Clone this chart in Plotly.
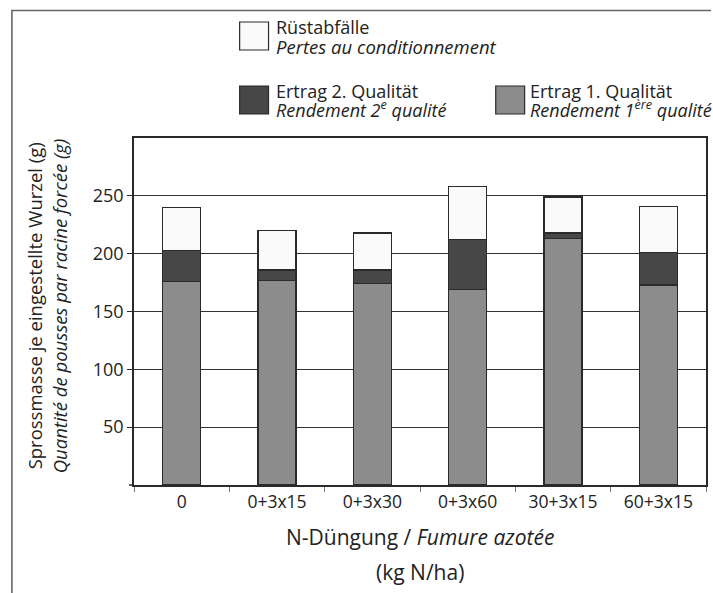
import plotly.graph_objects as go

categories = ["0", "0+3x15", "0+3x30", "0+3x60", "30+3x15", "60+3x15"]
ertrag_1 = [176, 177, 174, 169, 213, 173]
ertrag_2 = [27, 9, 12, 43, 5, 28]
ruestabfaelle = [37, 34, 32, 46, 31, 40]
y_ticks = [50, 100, 150, 200, 250]
y_ticktext = ["50", "100", "150", "200", "250"]

W, H = 713, 593
L, R, T, B = 134, 708, 138, 485
FONT = "Open Sans"
TXT = "#222222"
C_WHITE, C_DARK, C_GRAY = "#fafafa", "#474747", "#8c8c8c"
EDGE = "#2a2a2a"


def X(px):
    return (px - L) / (R - L)


def Y(py):
    return (B - py) / (B - T)


fig = go.Figure()
for name, vals, col in [("Ertrag 1. Qualität", ertrag_1, C_GRAY),
                        ("Ertrag 2. Qualität", ertrag_2, C_DARK),
                        ("Rüstabfälle", ruestabfaelle, C_WHITE)]:
    fig.add_trace(go.Bar(x=categories, y=vals, name=name, showlegend=False,
                         marker=dict(color=col, line=dict(color=EDGE, width=1.3))))

shapes = [
    # outer frame (top and left)
    dict(type="line", xref="paper", yref="paper", x0=X(11), x1=X(713), y0=Y(10.5), y1=Y(10.5),
         line=dict(color="#666666", width=1.6)),
    dict(type="line", xref="paper", yref="paper", x0=X(11.5), x1=X(11.5), y0=Y(10), y1=Y(593),
         line=dict(color="#666666", width=1.6)),
    # small extension of the x axis line to the left of the y axis
    dict(type="line", xref="paper", yref="paper", x0=X(129), x1=X(134), y0=0, y1=0,
         line=dict(color=EDGE, width=1.5)),
]
# legend swatches
for (x0, y0, col) in [(240, 22, C_WHITE), (240, 86, C_DARK), (497, 86, C_GRAY)]:
    shapes.append(dict(type="rect", xref="paper", yref="paper",
                       x0=X(x0), x1=X(x0 + 29), y0=Y(y0), y1=Y(y0 + 28),
                       fillcolor=col, line=dict(color=EDGE, width=1.2)))

ann = []
def txt(s, px, py, size=18, anchor="left", angle=0):
    ann.append(dict(text=s, x=X(px), y=Y(py), xref="paper", yref="paper", showarrow=False,
                    xanchor=anchor, yanchor="middle", textangle=angle, borderpad=0,
                    font=dict(family=FONT, size=size, color=TXT)))

txt("Rüstabfälle", 275, 27, size=18)
txt("<i>Pertes au conditionnement</i>", 275, 46, size=18.5)
txt("Ertrag 2. Qualität", 275, 91, size=18)
txt("<i>Rendement 2<sup>e</sup> qualité</i>", 275, 109, size=18)
txt("Ertrag 1. Qualität", 530, 91, size=18)
txt("<i>Rendement 1<sup>ère</sup> qualité</i>", 530, 109, size=18)
txt("N-Düngung / <i>Fumure azotée</i>", 421, 537, size=21, anchor="center")
txt("(kg N/ha)", 421, 572, size=21, anchor="center")
txt("Sprossmasse je eingestellte Wurzel (g)", 34, 306, size=18.5, anchor="center", angle=-90)
txt("<i>Quantité de pousses par racine forcée (g)</i>", 59, 306, size=18.5, anchor="center", angle=-90)

fig.update_layout(
    width=W, height=H,
    margin=dict(l=L, r=W - R, t=T, b=H - B, pad=0),
    paper_bgcolor="white", plot_bgcolor="white",
    barmode="stack", bargap=0.6,
    font=dict(family=FONT, size=17, color=TXT),
    shapes=shapes, annotations=ann,
    xaxis=dict(type="category", showline=True, linecolor=EDGE, linewidth=1.5, mirror=True,
               ticks="outside", tickson="boundaries", ticklen=5, tickcolor="#777777",
               tickfont=dict(family=FONT, size=17.5, color=TXT), showgrid=False),
    yaxis=dict(range=[0, 300], tickvals=y_ticks, ticktext=y_ticktext,
               showline=True, linecolor=EDGE, linewidth=1.5, mirror=True,
               ticks="outside", ticklen=5, tickcolor=EDGE,
               tickfont=dict(family=FONT, size=18, color=TXT),
               showgrid=True, gridcolor="#333333", gridwidth=1.3, zeroline=False),
)

fig.write_html("out.html", config={"displayModeBar": False},
               post_script="document.documentElement.style.margin='0';"
                           "document.body.style.margin='0';document.body.style.padding='0';"
                           "document.body.style.overflow='hidden';")
